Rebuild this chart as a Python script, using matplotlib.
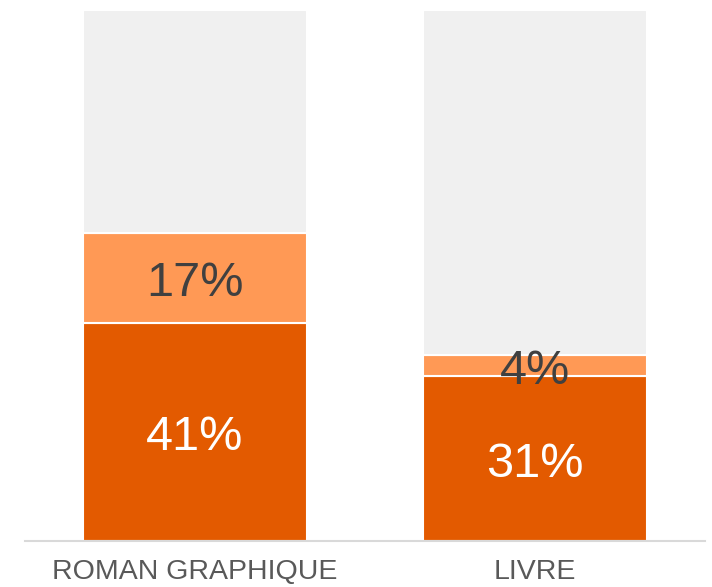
import matplotlib.pyplot as plt

categories = ["ROMAN GRAPHIQUE", "LIVRE"]
dark_vals = [41, 31]
light_vals = [17, 4]
rest_vals = [100 - d - l for d, l in zip(dark_vals, light_vals)]

plt.rcParams['font.family'] = ['Liberation Sans', 'DejaVu Sans']

fig = plt.figure(figsize=(7.12, 5.87), dpi=100)
ax = fig.add_axes([25 / 712, 46 / 587, 680 / 712, 531 / 587])

x = range(len(categories))
w = 0.66
ax.bar(x, dark_vals, width=w, color='#E35A00', edgecolor='white', linewidth=1.5)
ax.bar(x, light_vals, width=w, bottom=dark_vals, color='#FF9955', edgecolor='white', linewidth=1.5)
bottoms = [d + l for d, l in zip(dark_vals, light_vals)]
ax.bar(x, rest_vals, width=w, bottom=bottoms, color='#F0F0F0', edgecolor='white', linewidth=1.5)

# value labels, nudged down a little
for i in x:
    ax.annotate(f"{dark_vals[i]}%", (i, dark_vals[i] / 2), xytext=(0, -4),
                textcoords='offset points', ha='center', va='center',
                fontsize=35, color='white')
    ax.annotate(f"{light_vals[i]}%", (i, dark_vals[i] + light_vals[i] / 2), xytext=(0, -4),
                textcoords='offset points', ha='center', va='center',
                fontsize=35, color='#404040')

ax.set_xlim(-0.5, 1.5)
ax.set_ylim(0, 100)
ax.set_xticks(list(x))
ax.set_xticklabels(categories, fontsize=20.5, color='#595959')
ax.tick_params(axis='x', length=0, pad=13)
ax.set_yticks([])
for s in ['top', 'right', 'left']:
    ax.spines[s].set_visible(False)
ax.spines['bottom'].set_color('#D9D9D9')
ax.spines['bottom'].set_linewidth(1.5)

fig.savefig("out.png", dpi=100)
